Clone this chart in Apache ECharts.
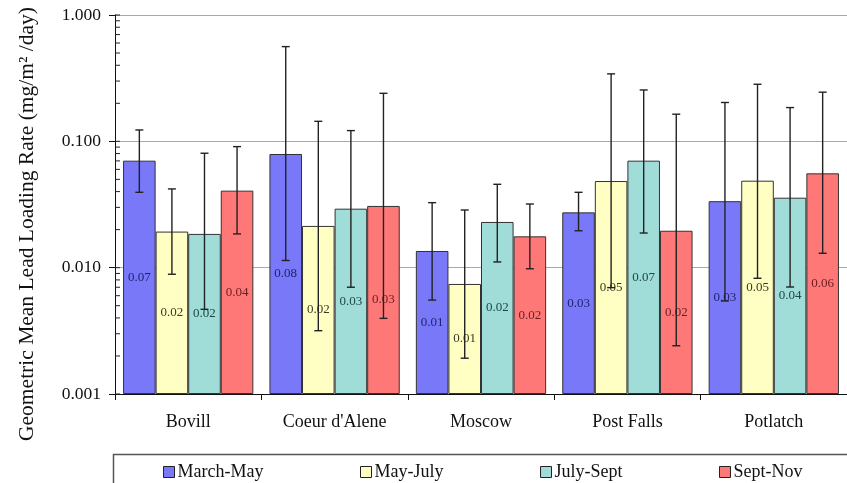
<!DOCTYPE html>
<html>
<head>
<meta charset="utf-8">
<script src="https://cdn.jsdelivr.net/npm/echarts@6/dist/echarts.min.js"></script>
<style>html,body{margin:0;padding:0;background:#fff;}#c{width:847px;height:483px;}</style>
</head>
<body>
<div id="c"></div>
<script>
const categories = ['Bovill', "Coeur d'Alene", 'Moscow', 'Post Falls', 'Potlatch'];
const seriesNames = ['March-May', 'May-July', 'July-Sept', 'Sept-Nov'];
const marchMay = [0.0703, 0.0794, 0.01355, 0.0274, 0.0336];
const mayJuly = [0.0193, 0.0214, 0.00743, 0.0485, 0.0488];
const julySept = [0.0185, 0.0293, 0.0230, 0.0703, 0.0358];
const septNov = [0.0407, 0.0308, 0.0177, 0.0196, 0.0558];
const marchMayLow = [0.0395, 0.0114, 0.00554, 0.0196, 0.00545];
const marchMayHigh = [0.123, 0.562, 0.0327, 0.0395, 0.203];
const mayJulyLow = [0.00887, 0.00317, 0.00192, 0.00695, 0.00824];
const mayJulyHigh = [0.0420, 0.144, 0.0286, 0.342, 0.283];
const julySeptLow = [0.00468, 0.0070, 0.0111, 0.0188, 0.00703];
const julySeptHigh = [0.0805, 0.1216, 0.0457, 0.255, 0.185];
const septNovLow = [0.0185, 0.00397, 0.0098, 0.00241, 0.0130];
const septNovHigh = [0.0908, 0.240, 0.0319, 0.164, 0.245];
const yTickLabels = ['0.001', '0.010', '0.100', '1.000'];
const minorTickValues = [0.002,0.003,0.004,0.005,0.006,0.007,0.008,0.009,
  0.02,0.03,0.04,0.05,0.06,0.07,0.08,0.09,
  0.2,0.3,0.4,0.5,0.6,0.7,0.8,0.9,
  0.001,0.01,0.1,1];

const values = [marchMay, mayJuly, julySept, septNov];
const lows = [marchMayLow, mayJulyLow, julySeptLow, septNovLow];
const highs = [marchMayHigh, mayJulyHigh, julySeptHigh, septNovHigh];
const colors = ['#7878F8', '#FFFFC4', '#A0DCD8', '#FF7878'];
const labelColors = ['#22226e', '#3a3a22', '#204848', '#6a2020'];
const legendLeft = [163, 360, 540, 719];
const serif = 'Liberation Serif, Times New Roman, serif';
const CAT_GAP = 0.11;

const chart = echarts.init(document.getElementById('c'));

const series = [];
seriesNames.forEach((name, i) => {
  series.push({
    name: name, type: 'bar', data: values[i],
    barGap: '0%', barCategoryGap: (CAT_GAP * 100) + '%',
    itemStyle: { color: colors[i], borderColor: '#333', borderWidth: 1 },
    label: { show: true, position: 'inside', fontFamily: serif, fontSize: 13,
      color: labelColors[i], formatter: p => p.value.toFixed(2) },
    emphasis: { disabled: true }, z: 2
  });
});
seriesNames.forEach((name, i) => {
  series.push({
    type: 'custom', z: 5, silent: true,
    data: categories.map((c, k) => [k, lows[i][k], highs[i][k]]),
    encode: { x: 0, y: [1, 2] },
    renderItem: function (params, api) {
      const catW = api.size([1, 0])[0];
      const barW = catW * (1 - CAT_GAP) / 4;
      const pLow = api.coord([api.value(0), api.value(1)]);
      const pHigh = api.coord([api.value(0), api.value(2)]);
      const x = pLow[0] + (i - 1.5) * barW;
      const cap = 4;
      const st = { stroke: '#222', lineWidth: 1.4 };
      return { type: 'group', children: [
        { type: 'line', shape: { x1: x, y1: pLow[1], x2: x, y2: pHigh[1] }, style: st },
        { type: 'line', shape: { x1: x - cap, y1: pLow[1], x2: x + cap, y2: pLow[1] }, style: st },
        { type: 'line', shape: { x1: x - cap, y1: pHigh[1], x2: x + cap, y2: pHigh[1] }, style: st }
      ]};
    }
  });
});
series.push({
  type: 'custom', z: 6, silent: true, clip: false,
  data: minorTickValues.map(v => [0, v]),
  encode: { x: 0, y: 1 },
  renderItem: function (params, api) {
    const y = api.coord([0, api.value(1)])[1];
    const x0 = params.coordSys.x;
    return { type: 'line', shape: { x1: x0, y1: y, x2: x0 + 5, y2: y }, style: { stroke: '#222', lineWidth: 1 } };
  }
});

chart.setOption({
  animation: false,
  grid: { left: 115, top: 15, width: 741.5, height: 379 },
  xAxis: {
    type: 'category', data: categories,
    axisLine: { lineStyle: { color: '#111', width: 1 } },
    axisTick: { show: true, length: 6, lineStyle: { color: '#111' } },
    axisLabel: { fontFamily: serif, fontSize: 18, color: '#111', margin: 19 }
  },
  yAxis: {
    type: 'log', logBase: 10, min: 0.001, max: 1, startValue: 0.001,
    axisLine: { show: true, lineStyle: { color: '#111', width: 1 } },
    axisTick: { show: true, length: 6, lineStyle: { color: '#111' } },
    axisLabel: { fontFamily: serif, fontSize: 17.5, color: '#111', margin: 14,
      formatter: v => { const idx = Math.round(Math.log10(v)) + 3; return yTickLabels[idx] || ''; } },
    splitLine: { show: true, lineStyle: { color: '#aaa', width: 1 } }
  },
  legend: seriesNames.map((n, i) => ({
    data: [n], left: legendLeft[i], top: 463, icon: 'rect', itemWidth: 11, itemHeight: 11, itemGap: 0,
    textStyle: { fontFamily: serif, fontSize: 18, color: '#111', padding: [0, 0, 0, -2] },
    itemStyle: { borderColor: '#222', borderWidth: 1 }, selectedMode: false, padding: 0
  })),
  graphic: [
    { type: 'rect', shape: { x: 113.5, y: 454.5, width: 800, height: 80 }, style: { fill: 'none', stroke: '#555', lineWidth: 1.5 }, z: -1 },
    { type: 'text', x: 27, y: 224, rotation: Math.PI / 2,
      style: { text: 'Geometric Mean Lead Loading Rate (mg/m² /day)', fontFamily: serif, fontSize: 21.5, fill: '#111', align: 'center', verticalAlign: 'middle' } }
  ],
  series: series
});
</script>
</body>
</html>
